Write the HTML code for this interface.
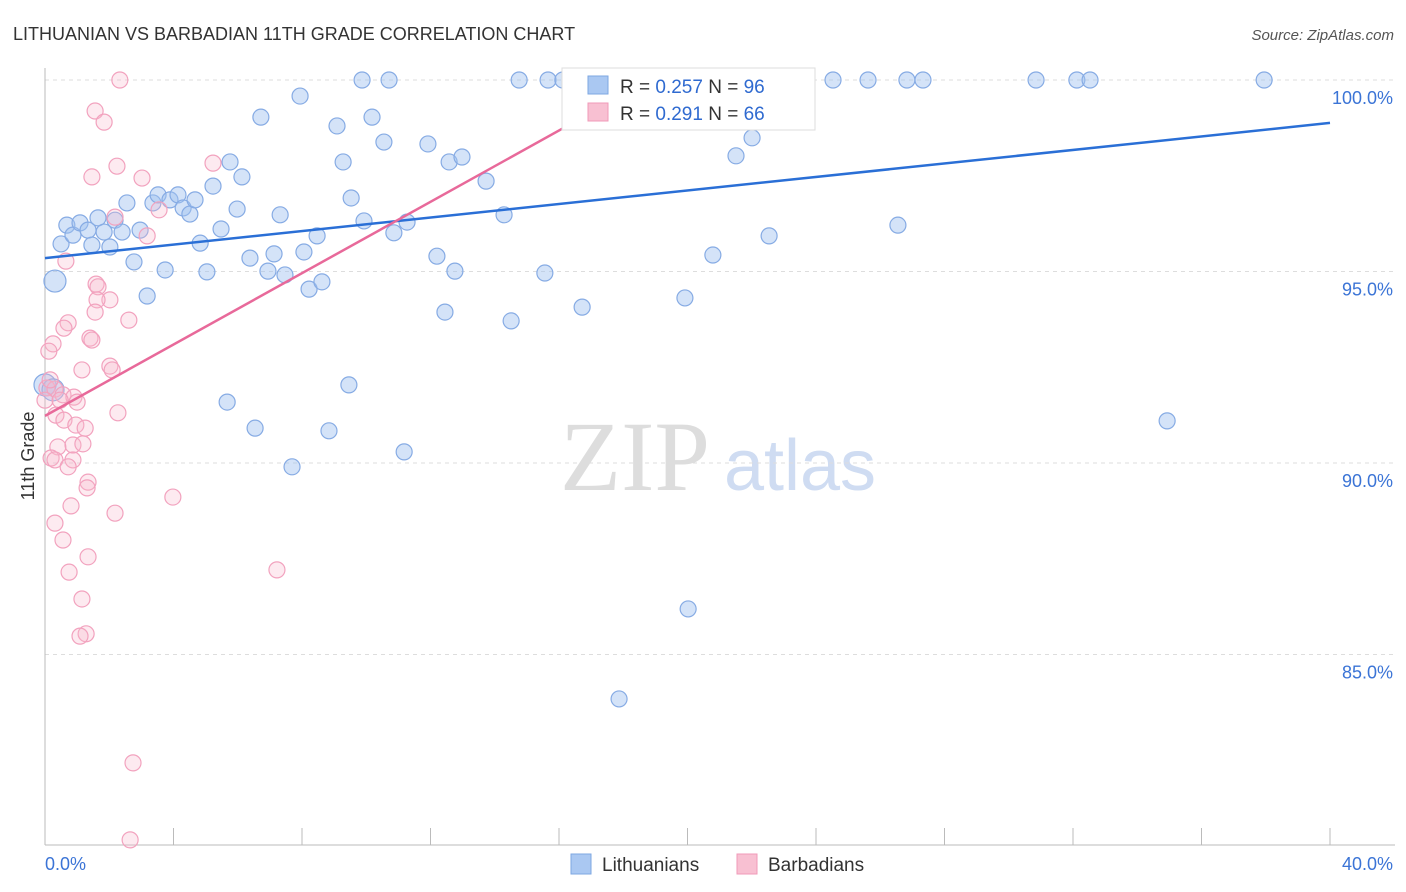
<!DOCTYPE html>
<html><head><meta charset="utf-8"><style>
body{margin:0;background:#fff;font-family:"Liberation Sans",sans-serif}
svg{display:block}
</style></head><body>
<svg id="chart" width="1406" height="892">
<text x="13" y="40" font-size="18" fill="#333">LITHUANIAN VS BARBADIAN 11TH GRADE CORRELATION CHART</text>
<text x="1394" y="40" font-size="15" fill="#555" font-style="italic" text-anchor="end">Source: ZipAtlas.com</text>
<text x="635" y="490" font-size="100" fill="#ddd" text-anchor="middle" font-family="Liberation Serif">ZIP</text>
<text x="800" y="490" font-size="72" fill="#cfdcf2" text-anchor="middle">atlas</text>
<g id="grid"></g><g id="axes"></g><g id="pts"></g><g id="lines"></g>
<text transform="translate(34,456) rotate(-90)" font-size="18" fill="#333" text-anchor="middle">11th Grade</text>
<g>
<rect x="562" y="68" width="253" height="62" fill="#fff" stroke="#ddd"/>
<rect x="588" y="76" width="20" height="18" fill="#aac8f2" stroke="#7ea7e2"/>
<rect x="588" y="103" width="20" height="18" fill="#f8c0d2" stroke="#f09ab8"/>
<text x="620" y="93" font-size="19" fill="#333">R = <tspan fill="#2f6ad0">0.257</tspan>   N = <tspan fill="#2f6ad0">96</tspan></text>
<text x="620" y="120" font-size="19" fill="#333">R = <tspan fill="#2f6ad0"> 0.291</tspan>   N = <tspan fill="#2f6ad0">66</tspan></text>
</g>
<g>
<rect x="571" y="854" width="20" height="20" fill="#aac8f2" stroke="#7ea7e2"/>
<text x="602" y="871" font-size="19" fill="#333">Lithuanians</text>
<rect x="737" y="854" width="20" height="20" fill="#f8c0d2" stroke="#f09ab8"/>
<text x="768" y="871" font-size="19" fill="#333">Barbadians</text>
</g>
</svg>
<script>
const blueX=[0.31,0.50,0.68,0.87,1.09,1.34,1.46,1.65,1.84,2.02,2.18,2.40,2.55,2.77,2.96,3.18,3.36,3.52,3.74,3.89,4.14,4.30,4.51,4.67,4.83,5.04,5.23,5.48,5.76,5.98,6.13,5.67,6.38,6.54,6.72,6.94,7.13,7.32,7.47,7.69,7.94,8.06,8.22,8.47,8.62,8.84,9.09,9.28,9.46,9.53,9.87,9.93,10.18,10.55,10.71,10.86,11.18,11.27,11.92,12.20,12.45,12.58,12.76,12.98,13.73,14.29,14.51,14.76,15.56,15.66,16.12,16.72,17.87,19.92,20.02,20.79,21.51,22.01,22.54,22.60,23.63,24.53,25.62,26.55,26.83,27.33,30.85,32.12,32.53,34.93,37.95,0.0,0.25];
const blueY=[94.75,95.72,96.21,95.95,96.27,96.08,95.69,96.40,96.03,95.64,96.34,96.03,96.79,95.25,96.08,94.36,96.79,97.00,95.04,96.87,97.00,96.66,96.50,96.87,95.74,94.99,97.23,96.11,97.86,96.63,97.47,91.59,95.35,90.91,99.03,95.01,95.46,96.48,94.91,89.90,99.58,95.51,94.54,95.93,94.73,90.84,98.80,97.86,92.04,96.92,100,96.32,99.03,98.38,100,96.01,90.29,96.29,98.33,95.40,93.94,97.86,95.01,97.99,97.36,96.48,93.71,100,94.96,100,100,94.07,83.84,94.31,86.19,95.43,98.02,98.49,95.93,100,100,100,100,96.21,100,100,100,100,100,91.10,100,92.04,91.91];
const pinkX=[2.33,1.56,1.84,1.46,2.24,3.02,5.23,3.55,2.18,3.18,0.65,1.59,1.65,2.02,1.62,1.56,2.61,0.72,0.59,1.40,1.46,0.25,0.12,2.02,1.15,2.09,0.06,0.31,0.56,0.90,1.00,0.34,2.27,0.59,0.96,1.25,0.87,1.18,0.40,0.19,0.31,0.87,0.72,1.34,1.31,3.98,0.81,2.18,0.31,0.56,1.34,0.75,7.22,1.15,1.28,1.09,2.74,2.65,0.16,0.0,0.47];
const pinkY=[100,99.19,98.90,97.47,97.75,97.44,97.83,96.61,96.42,95.93,95.27,94.67,94.60,94.26,94.26,93.94,93.73,93.66,93.52,93.26,93.21,93.11,92.92,92.53,92.43,92.43,91.96,91.93,91.78,91.72,91.59,91.25,91.31,91.12,90.99,90.91,90.47,90.50,90.42,90.13,90.08,90.08,89.90,89.50,89.35,89.11,88.88,88.69,88.43,87.99,87.55,87.15,87.21,86.45,85.54,85.48,82.17,80.16,92.17,91.64,91.64];
const blueTrend=[95.35,98.88];
const pinkTrend=[91.23,100];
const pinkTrendEnd=18.83;
const yTicks=[100,95,90,85];
const yTickLabels=["100.0%","95.0%","90.0%","85.0%"];
const xTicks=[0,4,8,12,16,20,24,28,32,36,40];
const NS="http://www.w3.org/2000/svg";
const X=v=>45+v/40*1285, Y=v=>80+(100-v)*38.3;
function mk(t,a,p){const e=document.createElementNS(NS,t);for(const k in a)e.setAttribute(k,a[k]);document.getElementById(p).appendChild(e);return e;}
yTicks.forEach((t,i)=>{
 const l=mk('line',{x1:45,x2:1395,y1:Y(t),y2:Y(t),stroke:'#ddd','stroke-dasharray':'4,4'},'grid');
 
 
 const tx=mk('text',{x:1393,y:Y(t)+24,'font-size':18,fill:'#3b74d6','text-anchor':'end'},'grid');
 tx.textContent=yTickLabels[i];
 
 
});
mk('line',{x1:45,x2:45,y1:68,y2:845,stroke:'#bbb'},'axes');
mk('line',{x1:45,x2:1395,y1:845,y2:845,stroke:'#bbb'},'axes');
xTicks.forEach(t=>{const l=mk('line',{x1:X(t),x2:X(t),y1:828,y2:845,stroke:'#bbb'},'axes');
 
 });
const xl0=mk('text',{x:45,y:870,'font-size':18,fill:'#3b74d6'},'axes');xl0.textContent=xTicks[0].toFixed(1)+'%';


const xl1=mk('text',{x:1393,y:870,'font-size':18,fill:'#3b74d6','text-anchor':'end'},'axes');xl1.textContent=xTicks[xTicks.length-1].toFixed(1)+'%';


blueX.forEach((x,i)=>{const c=mk('circle',{cx:X(x),cy:Y(blueY[i]),r:(i===0||i>=blueX.length-2)?11:8,fill:'rgba(160,192,240,0.45)',stroke:'#86abe4','stroke-width':1.2},'pts');
 
 });
pinkX.forEach((x,i)=>{const c=mk('circle',{cx:X(x),cy:Y(pinkY[i]),r:8,fill:'rgba(248,185,205,0.3)',stroke:'#f2a2be','stroke-width':1.2},'pts');
 
 });
const bl=mk('line',{x1:X(0),y1:Y(blueTrend[0]),x2:X(40),y2:Y(blueTrend[1]),stroke:'#2a6fd6','stroke-width':2.5},'lines');


const pl=mk('line',{x1:X(0),y1:Y(pinkTrend[0]),x2:X(pinkTrendEnd),y2:Y(pinkTrend[1]),stroke:'#e8699a','stroke-width':2.5},'lines');


</script>
</body></html>
